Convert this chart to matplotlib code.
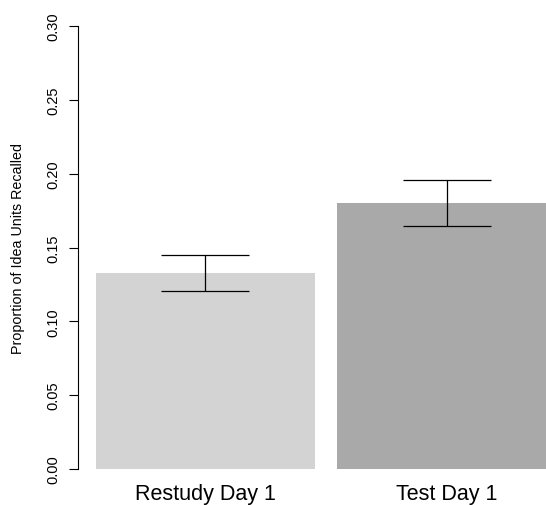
import matplotlib
matplotlib.use("Agg")
import matplotlib.pyplot as plt

conditions = ["Restudy Day 1", "Test Day 1"]
means = [0.1328, 0.1800]
err_low = [0.1204, 0.1644]
err_high = [0.1446, 0.1956]
colors = ["#D3D3D3", "#A9A9A9"]

plt.rcParams['font.family'] = ['Liberation Sans', 'DejaVu Sans']

W, H = 546, 506
fig = plt.figure(figsize=(W / 100, H / 100), dpi=100)
ax = fig.add_axes([78 / W, (H - 470) / H, (W - 78) / W, (470 - 27) / H])

x = list(range(len(conditions)))
ax.bar(x, means, width=0.908, color=colors, zorder=1)
lower = [m - lo for m, lo in zip(means, err_low)]
upper = [hi - m for m, hi in zip(means, err_high)]
ax.errorbar(x, means, yerr=[lower, upper], fmt='none', ecolor='black',
            elinewidth=0.9, capsize=31.7, capthick=0.9, zorder=2)

ax.set_xlim(-0.5286, 1.4117)
ax.set_ylim(0, 0.30)
ax.set_yticks([0, 0.05, 0.10, 0.15, 0.20, 0.25, 0.30])
ax.set_yticklabels(["0.00", "0.05", "0.10", "0.15", "0.20", "0.25", "0.30"],
                   rotation=90, va='center', fontsize=10.5)
ax.tick_params(axis='y', direction='out', length=6.5, width=0.8, pad=6.5)
ax.set_xticks(x)
ax.set_xticklabels(conditions, fontsize=15.5)
ax.tick_params(axis='x', length=0, pad=10)

for side in ['top', 'right', 'bottom']:
    ax.spines[side].set_visible(False)
ax.spines['left'].set_bounds(0, 0.30)
ax.spines['left'].set_linewidth(0.8)

ax.set_ylabel("Proportion of Idea Units Recalled", fontsize=10.3)
ax.yaxis.set_label_coords(-(78 - 25) / (W - 78), 0.5)

fig.savefig("out.png", dpi=100)
